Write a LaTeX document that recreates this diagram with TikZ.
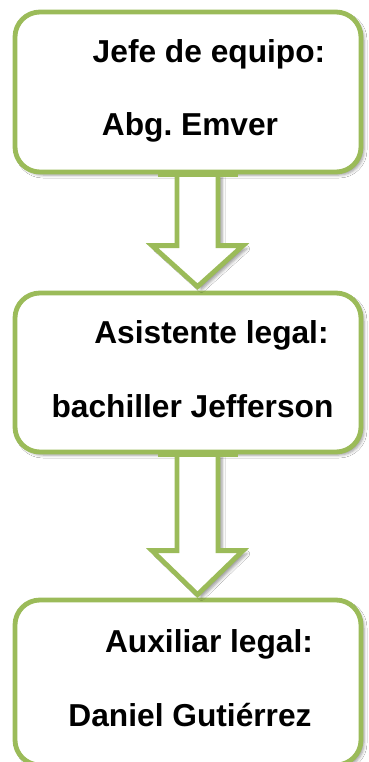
\documentclass[tikz,border=0pt]{standalone}
\usepackage{fontspec}
\setmainfont{Liberation Sans}
\usetikzlibrary{calc,shadows.blur}
\definecolor{olivegreen}{HTML}{9BBB59}
\frenchspacing
\tikzset{
  orgbox/.style={draw=olivegreen, line width=4.8pt, fill=white, rounded corners=25pt,
    minimum width=346pt, inner sep=0pt,
    blur shadow={shadow xshift=3pt, shadow yshift=-3pt, shadow opacity=40, shadow blur radius=3pt}},
  blockarrow/.style={draw=olivegreen, line width=4.8pt, fill=white, line join=miter,
    blur shadow={shadow xshift=4pt, shadow yshift=-3pt, shadow opacity=40, shadow blur radius=3pt}},
  lbl/.style={anchor=base, inner sep=0pt, font=\fontsize{31.7}{38}\selectfont\bfseries}
}
\begin{document}
\begin{tikzpicture}[x=1pt, y=-1pt]
\useasboundingbox (0,0) rectangle (368,762);
\fill[white] (0,0) rectangle (368,762);
% boxes
\node[orgbox, minimum height=160pt] (b1) at (188,92) {};
\node[orgbox, minimum height=159pt] (b2) at (188,372.5) {};
\node[orgbox, minimum height=165pt] (b3) at (188,682.5) {};
% arrow 1
\coordinate (a1top) at ($(b1.south)+(9.5,0)$);
\coordinate (a1tip) at ($(b2.north)+(9.5,-4)$);
\coordinate (a1sh) at ($(a1tip)+(0,-41)$);
\draw[blockarrow] ($(a1top)+(-20.5,0)$) -- ($(a1sh)+(-20.5,0)$)
  -- ($(a1sh)+(-45.5,0)$) -- (a1tip) -- ($(a1sh)+(45.5,0)$)
  -- ($(a1sh)+(20.5,0)$) -- ($(a1top)+(20.5,0)$) -- cycle;
% arrow 2
\coordinate (a2top) at ($(b2.south)+(9.5,0)$);
\coordinate (a2tip) at ($(b3.north)+(9.5,-3)$);
\coordinate (a2sh) at ($(a2tip)+(0,-44)$);
\draw[blockarrow] ($(a2top)+(-20.5,0)$) -- ($(a2sh)+(-20.5,0)$)
  -- ($(a2sh)+(-45.5,0)$) -- (a2tip) -- ($(a2sh)+(45.5,0)$)
  -- ($(a2sh)+(20.5,0)$) -- ($(a2top)+(20.5,0)$) -- cycle;
% redraw box borders over arrow tops
\draw[olivegreen, line width=4.8pt] ($(b1.south)+(-30,0)$) -- ($(b1.south)+(50,0)$);
\draw[olivegreen, line width=4.8pt] ($(b2.south)+(-30,0)$) -- ($(b2.south)+(50,0)$);
% labels
\node[lbl] (t1) at (209,63) {Jefe de equipo:};
\node[lbl] (t2) at (190,136) {Abg.\ Emver};
\node[lbl] (t3) at (211.5,343) {Asistente legal:};
\node[lbl] (t4) at (192.5,417) {bachiller Jefferson};
\node[lbl] (t5) at (209,652) {Auxiliar legal:};
\node[lbl] (t6) at (190,726) {Daniel Gutiérrez};
\end{tikzpicture}
\end{document}
